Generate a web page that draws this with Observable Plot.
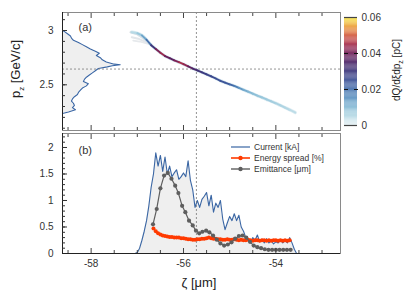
<!DOCTYPE html>
<html><head><meta charset="utf-8">
<script src="https://cdn.jsdelivr.net/npm/d3@7"></script>
<script src="https://cdn.jsdelivr.net/npm/@observablehq/plot@0.6"></script>
<style>
body{margin:0;background:#fff;}
#wrap{position:relative;width:415px;height:298px;font-family:"Liberation Sans",Arial,sans-serif;color:#222;overflow:hidden;}
#wrap > svg{position:absolute;left:0;}
.lab{position:absolute;white-space:nowrap;transform:translate(-50%,-50%);}
.rot{transform:translate(-50%,-50%) rotate(-90deg);}
.leg{position:absolute;left:231px;font-size:8.5px;color:#333;}
.leg div{height:11.3px;display:flex;align-items:center;}
#wrap .leg svg{position:static;margin-right:4px;}
</style></head><body><div id="wrap"></div>
<script>
// ---------- data ----------
// current profile [kA] vs zeta [um]
const curZ = [-58.62,-57.05,-57.00,-56.95,-56.90,-56.85,-56.80,-56.75,-56.70,-56.65,-56.60,-56.55,-56.50,-56.45,-56.40,-56.35,-56.30,-56.25,-56.20,-56.15,-56.10,-56.05,-56.00,-55.95,-55.90,-55.85,-55.80,-55.75,-55.70,-55.65,-55.60,-55.55,-55.50,-55.45,-55.40,-55.35,-55.30,-55.25,-55.20,-55.15,-55.10,-55.05,-55.00,-54.95,-54.90,-54.85,-54.80,-54.75,-54.70,-54.65,-54.60,-54.55,-54.50,-54.45,-54.40,-54.35,-54.30,-54.25,-54.20,-54.15,-54.10,-54.05,-54.00,-53.95,-53.90,-53.85,-53.80,-53.75,-53.70,-53.65,-53.60,-53.55,-52.60];
const current = [0,0,0.02,0.10,0.25,0.42,0.62,0.90,1.25,1.50,1.90,1.65,1.85,1.55,1.82,1.50,1.65,1.45,1.52,1.58,1.40,1.45,1.52,1.45,1.75,1.38,1.20,0.87,1.00,0.87,1.02,1.08,1.15,0.90,1.10,0.78,0.95,0.87,1.00,0.65,0.45,0.58,0.70,0.62,0.75,0.62,0.72,0.50,0.42,0.30,0.25,0.20,0.30,0.25,0.35,0.22,0.27,0.20,0.28,0.20,0.24,0.18,0.22,0.20,0.25,0.20,0.24,0.20,0.30,0.20,0.08,0,0];
// energy spread [%]
const esZ = [-56.65,-56.60,-56.55,-56.50,-56.45,-56.40,-56.35,-56.30,-56.25,-56.20,-56.15,-56.10,-56.05,-56.00,-55.95,-55.90,-55.85,-55.80,-55.75,-55.70,-55.65,-55.60,-55.55,-55.50,-55.45,-55.40,-55.35,-55.30,-55.25,-55.20,-55.15,-55.10,-55.05,-55.00,-54.95,-54.90,-54.85,-54.80,-54.75,-54.70,-54.65,-54.60,-54.55,-54.50,-54.45,-54.40,-54.35,-54.30,-54.25,-54.20,-54.15,-54.10,-54.05,-54.00,-53.95,-53.90,-53.85,-53.80,-53.75,-53.70];
const energySpread = [0.47,0.42,0.38,0.36,0.34,0.33,0.32,0.31,0.31,0.30,0.30,0.30,0.29,0.29,0.28,0.27,0.27,0.26,0.26,0.27,0.27,0.28,0.28,0.29,0.30,0.29,0.28,0.28,0.27,0.27,0.26,0.26,0.27,0.26,0.26,0.27,0.26,0.25,0.26,0.25,0.25,0.26,0.25,0.24,0.25,0.25,0.24,0.25,0.25,0.24,0.25,0.24,0.25,0.25,0.24,0.25,0.24,0.25,0.24,0.25];
// emittance [um]
const emZ = [-56.66,-56.58,-56.50,-56.42,-56.34,-56.26,-56.18,-56.11,-56.03,-55.96,-55.88,-55.80,-55.73,-55.66,-55.59,-55.51,-55.44,-55.36,-55.28,-55.20,-55.12,-55.04,-54.96,-54.88,-54.80,-54.72,-54.64,-54.56,-54.48,-54.40,-54.32,-54.24,-54.16,-54.08,-54.00,-53.92,-53.84,-53.76,-53.68];
const emittance = [0.55,0.84,1.23,1.47,1.52,1.41,1.28,1.14,0.90,0.78,0.62,0.53,0.43,0.38,0.41,0.43,0.40,0.34,0.26,0.19,0.15,0.17,0.21,0.28,0.33,0.34,0.30,0.22,0.15,0.12,0.10,0.08,0.07,0.07,0.07,0.07,0.07,0.07,0.07];
// longitudinal phase space centroid: zeta, p_z [GeV/c], density dQ/dzeta dp_z [pC]
const beamZ = [-57.12,-57.0,-56.9,-56.8,-56.7,-56.6,-56.5,-56.4,-56.3,-56.2,-56.1,-56.0,-55.9,-55.8,-55.7,-55.6,-55.5,-55.4,-55.3,-55.2,-55.1,-55.0,-54.9,-54.8,-54.7,-54.6,-54.5,-54.4,-54.3,-54.2,-54.1,-54.0,-53.9,-53.8,-53.7,-53.58];
const beamP = [2.985,2.975,2.955,2.915,2.865,2.83,2.795,2.765,2.745,2.725,2.708,2.69,2.67,2.65,2.632,2.615,2.597,2.578,2.558,2.537,2.52,2.504,2.49,2.472,2.454,2.436,2.418,2.40,2.383,2.365,2.348,2.33,2.31,2.29,2.27,2.245];
const beamQ = [0.004,0.006,0.010,0.016,0.025,0.036,0.046,0.042,0.036,0.038,0.044,0.046,0.040,0.036,0.032,0.030,0.028,0.027,0.026,0.024,0.025,0.023,0.020,0.016,0.013,0.011,0.010,0.009,0.008,0.008,0.007,0.007,0.006,0.006,0.005,0.004];
// faint head filaments
const wispZ1 = [-57.15,-57.0,-56.85,-56.69], wispP1 = [2.984,2.965,2.92,2.87];
const wispZ2 = [-57.12,-56.98,-56.85,-56.73], wispP2 = [2.938,2.925,2.90,2.877];
const wispZ3 = [-57.09,-56.95,-56.76], wispP3 = [2.907,2.898,2.877];
// p_z projection (relative counts)
const profP = [3.00,2.99,2.97,2.95,2.93,2.91,2.89,2.87,2.85,2.83,2.81,2.79,2.77,2.75,2.73,2.71,2.69,2.685,2.675,2.665,2.65,2.63,2.61,2.59,2.57,2.55,2.53,2.51,2.49,2.47,2.45,2.43,2.41,2.39,2.37,2.35,2.33,2.31,2.29,2.27,2.25,2.235];
const profN = [0,2,5,8,9,11,16,20,24,28,33,37,34,38,40,44,52,58,50,45,36,33,30,27,24,22,21,26,24,20,18,16,15,12,10,9,11,12,10,13,6,0];
// reference lines
const zetaRef = -55.72, pRef = 2.645;
// colour map stops for dQ/dξdp_z
const cmap = ["#e6f1f4","#b8dbe6","#86bcd6","#5b93c2","#4470ad","#3c5096","#3a357a","#4a2366","#6e1c57","#a82a4c","#d65a3e","#eea23c","#f6e73e"];

// ---------- layout ----------
const xDom = [-58.62, -52.6];
const yTop = [2.079, 3.166];
const yBot = [0, 2.264];
const font = {fontFamily:"Liberation Sans, Arial, sans-serif", fontSize:"10px", color:"#222", overflow:"visible", background:"transparent"};
const colorScale = {type:"linear", domain:[0,0.06], interpolate:d3.interpolateRgbBasis(cmap)};
const xMinor = d3.range(-58.5, -52.6, 0.5).filter(v => v % 2 !== 0);
const xMajor = [-58, -56, -54];
const wrap = document.getElementById("wrap");

const beam = beamZ.map((z,i)=>({z, p:beamP[i], q:beamQ[i]}));
const segs = beam.slice(1).map((d,i)=>({x1:beam[i].z, y1:beam[i].p, x2:d.z, y2:d.p, q:(beam[i].q+d.q)/2}));
const prof = profP.map((p,i)=>({p, n:profN[i]}));
const profScale = 1.25/58; // um of zeta per count

const topPlot = Plot.plot({
  width:415, height:134, marginLeft:62, marginRight:75, marginTop:12, marginBottom:4,
  x:{domain:xDom}, y:{domain:yTop}, color:colorScale, style:font,
  marks:[
    Plot.areaX(prof, {y:"p", x1:d=>xDom[0], x2:d=>xDom[0]+d.n*profScale, fill:"#efefef"}),
    Plot.lineY(prof, {y:"p", x:d=>xDom[0]+d.n*profScale, stroke:"#3a66a4", strokeWidth:1.1}),
    Plot.ruleY([pRef], {stroke:"#777", strokeDasharray:"2,2", strokeWidth:0.8}),
    Plot.ruleX([zetaRef], {stroke:"#777", strokeDasharray:"2,2", strokeWidth:0.8}),
    Plot.line(wispZ1.map((z,i)=>({z,p:wispP1[i]})), {x:"z", y:"p", stroke:"#dde3e8", strokeWidth:2}),
    Plot.line(wispZ2.map((z,i)=>({z,p:wispP2[i]})), {x:"z", y:"p", stroke:"#e2e6ea", strokeWidth:2}),
    Plot.line(wispZ3.map((z,i)=>({z,p:wispP3[i]})), {x:"z", y:"p", stroke:"#e6e9ec", strokeWidth:1.6}),
    Plot.line(beam, {x:"z", y:"p", stroke:"#b4d6e3", strokeWidth:3.2, strokeOpacity:0.5, curve:"catmull-rom"}),
    Plot.link(segs, {x1:"x1", y1:"y1", x2:"x2", y2:"y2", stroke:"q", strokeWidth:1.9, strokeLinecap:"round"}),
    Plot.frame({stroke:"#8a8a8a", strokeWidth:1}),
    Plot.ruleX([xDom[0]], {stroke:"#222", strokeWidth:1}),
    Plot.axisY(d3.range(2.1, 3.15, 0.1), {anchor:"left", tickSize:-3, fill:"none", label:null, stroke:"#333"}),
    Plot.axisY([2.5, 3], {anchor:"left", tickSize:-5, fill:"none", label:null, stroke:"#333"}),
    Plot.axisY([2.5, 3], {anchor:"left", tickSize:0, tickPadding:9, label:null, fill:"#333", fontSize:10, tickFormat:d=>String(d)}),
    Plot.axisX(xMinor, {anchor:"top", tickSize:-3, fill:"none", label:null, stroke:"#444"}),
    Plot.axisX(xMajor, {anchor:"top", tickSize:-5, fill:"none", label:null, stroke:"#444"}),
    Plot.axisX(xMinor, {anchor:"bottom", tickSize:-3, fill:"none", label:null, stroke:"#444"}),
    Plot.axisX(xMajor, {anchor:"bottom", tickSize:-5, fill:"none", label:null, stroke:"#444"}),
    Plot.text(["(a)"], {frameAnchor:"top-left", dx:16, dy:15, lineAnchor:"middle", textAnchor:"start", fontSize:11, fill:"#333"})
  ]
});
topPlot.style.top = "0px";
wrap.appendChild(topPlot);

// colour bar
const levels = d3.range(0, 0.06, 0.0005);
const cbar = Plot.plot({
  width:415, height:134, marginLeft:344, marginRight:58, marginTop:17, marginBottom:9,
  x:{domain:[0,1], axis:null}, y:{domain:[0,0.06]}, color:colorScale, style:font,
  marks:[
    Plot.rect(levels, {x1:0, x2:1, y1:d=>d, y2:d=>d+0.0005, fill:d=>d+0.00025}),
    Plot.ruleY([0, 0.06], {stroke:"#444", strokeWidth:1.2}),
    Plot.axisY([0.02, 0.04], {anchor:"left", tickSize:-4, fill:"none", label:null, stroke:"#111"}),
    Plot.axisY([0.02, 0.04], {anchor:"right", tickSize:-4, fill:"none", label:null, stroke:"#111"}),
    Plot.axisY([0, 0.02, 0.04, 0.06], {anchor:"right", tickSize:0, tickPadding:4, label:null, fill:"#333", fontSize:10, tickFormat:d=>d===0?"0":d.toFixed(2)})
  ]
});
cbar.style.top = "0px";
wrap.appendChild(cbar);

// bottom panel
const cur = curZ.map((z,i)=>({z, v:current[i]}));
const es = esZ.map((z,i)=>({z, v:energySpread[i]}));
const em = emZ.map((z,i)=>({z, v:emittance[i]}));
const botPlot = Plot.plot({
  width:415, height:168, marginLeft:62, marginRight:75, marginTop:3, marginBottom:45,
  x:{domain:xDom}, y:{domain:yBot}, style:font,
  marks:[
    Plot.areaY(cur, {x:"z", y:"v", fill:"#efefef"}),
    Plot.lineY(cur, {x:"z", y:"v", stroke:"#3a66a4", strokeWidth:1.1}),
    Plot.ruleX([zetaRef], {stroke:"#777", strokeDasharray:"2,2", strokeWidth:0.8}),
    Plot.lineY(es, {x:"z", y:"v", stroke:"#ff3a00", strokeWidth:1.2}),
    Plot.dot(es, {x:"z", y:"v", r:2, fill:"#ff3a00"}),
    Plot.lineY(em, {x:"z", y:"v", stroke:"#5e5e5e", strokeWidth:1.2}),
    Plot.dot(em, {x:"z", y:"v", r:2.1, fill:"#5e5e5e"}),
    Plot.frame({stroke:"#8a8a8a", strokeWidth:1}),
    Plot.ruleX([xDom[0]], {stroke:"#222", strokeWidth:1}),
    Plot.ruleY([0], {stroke:"#222", strokeWidth:1}),
    Plot.axisY(d3.range(0.1, 2.25, 0.1), {anchor:"left", tickSize:-3, fill:"none", label:null, stroke:"#333"}),
    Plot.axisY([0.5, 1, 1.5, 2], {anchor:"left", tickSize:-5, fill:"none", label:null, stroke:"#333"}),
    Plot.axisY([0, 0.5, 1, 1.5, 2], {anchor:"left", tickSize:0, tickPadding:9, label:null, fill:"#333", fontSize:10, tickFormat:d=>String(d)}),
    Plot.axisX(xMinor, {anchor:"top", tickSize:-3, fill:"none", label:null, stroke:"#444"}),
    Plot.axisX(xMajor, {anchor:"top", tickSize:-5, fill:"none", label:null, stroke:"#444"}),
    Plot.axisX(xMinor, {anchor:"bottom", tickSize:-3, fill:"none", label:null, stroke:"#444"}),
    Plot.axisX(xMajor, {anchor:"bottom", tickSize:-5, fill:"none", label:null, stroke:"#444"}),
    Plot.axisX(xMajor, {anchor:"bottom", tickSize:0, tickPadding:6, label:null, fill:"#333", fontSize:10, tickFormat:d=>String(d)}),
    Plot.text(["(b)"], {frameAnchor:"top-left", dx:16, dy:17, lineAnchor:"middle", textAnchor:"start", fontSize:11, fill:"#333"})
  ]
});
botPlot.style.top = "130px";
wrap.appendChild(botPlot);

// labels
wrap.insertAdjacentHTML("beforeend", `
<div class="lab rot" style="left:17px;top:69px;font-size:13px;">p<sub style="font-size:8px">z</sub> [GeV/c]</div>
<div class="lab rot" style="left:397px;top:70px;font-size:10px;">dQ/dξdp<sub style="font-size:7px">z</sub> [pC]</div>
<div class="lab" style="left:199px;top:282px;font-size:13px;">ζ [μm]</div>
<div class="leg" style="top:141px;">
  <div><svg width="19" height="6"><line x1="0" y1="3" x2="19" y2="3" stroke="#3a66a4" stroke-width="1.2"/></svg>Current [kA]</div>
  <div><svg width="19" height="6"><line x1="0" y1="3" x2="19" y2="3" stroke="#ff3a00" stroke-width="1.6"/><circle cx="9.5" cy="3" r="2.2" fill="#ff3a00"/></svg>Energy spread [%]</div>
  <div><svg width="19" height="6"><line x1="0" y1="3" x2="19" y2="3" stroke="#5e5e5e" stroke-width="1.4"/><circle cx="9.5" cy="3" r="2.2" fill="#5e5e5e"/></svg>Emittance [μm]</div>
</div>`);
</script>
</body></html>
